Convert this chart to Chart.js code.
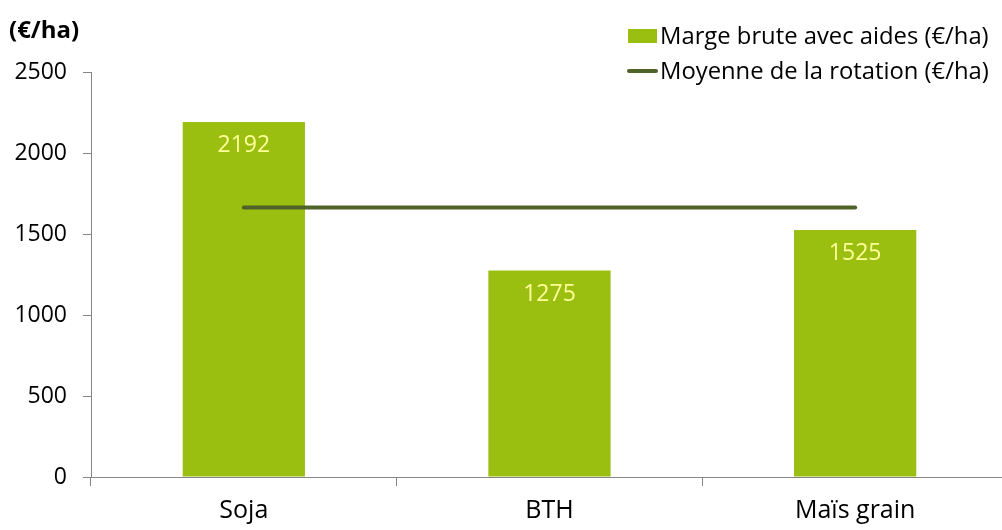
<!DOCTYPE html>
<html>
<head>
<meta charset="utf-8">
<script src="https://cdn.jsdelivr.net/npm/chart.js@4/dist/chart.umd.min.js"></script>
<style>
  html, body { margin: 0; padding: 0; background: #fff; overflow: hidden; }
  #wrap { width: 1008px; height: 530px; position: relative; }
</style>
</head>
<body>
<div id="wrap"><canvas id="c"></canvas></div>
<script>
// Gross margin per crop and the rotation average
const categories = ['Soja', 'BTH', 'Maïs grain'];
const margeBrute = [2192, 1275, 1525];
const moyenneRotation = [1664, 1664, 1664];
const seriesNames = ['Marge brute avec aides (€/ha)', 'Moyenne de la rotation (€/ha)'];
const yTicks = [0, 500, 1000, 1500, 2000, 2500];
const unitLabel = '(€/ha)';

const FONT = '"Open Sans", "Liberation Sans", sans-serif';
const BAR_COLOR = '#9bbf11';
const LINE_COLOR = '#4f6228';
const LABEL_COLOR = '#ffff99';

// Value labels inside the top of each bar
const barLabels = {
  id: 'barLabels',
  afterDatasetsDraw(chart) {
    const ctx = chart.ctx;
    const idx = chart.data.datasets.findIndex(d => d.type === 'bar');
    const meta = chart.getDatasetMeta(idx);
    ctx.save();
    ctx.font = '23px ' + FONT;
    ctx.fillStyle = LABEL_COLOR;
    ctx.textAlign = 'center';
    ctx.textBaseline = 'middle';
    meta.data.forEach((bar, i) => {
      ctx.fillText(String(chart.data.datasets[idx].data[i]), bar.x, bar.y + 24);
    });
    ctx.restore();
  }
};

// Unit caption and the two-row legend in the top corners
const decorations = {
  id: 'decorations',
  afterDraw(chart) {
    const ctx = chart.ctx;
    const ds = chart.data.datasets;
    const barDs = ds.find(d => d.type === 'bar');
    const lineDs = ds.find(d => d.type === 'line');
    ctx.save();
    ctx.font = 'bold 24px ' + FONT;
    ctx.fillStyle = '#000';
    ctx.textAlign = 'left';
    ctx.textBaseline = 'middle';
    ctx.fillText(unitLabel, 9, 31);

    ctx.font = '23.8px ' + FONT;
    // bar entry
    ctx.fillStyle = barDs.backgroundColor;
    ctx.fillRect(628, 29, 29, 14);
    ctx.fillStyle = '#000';
    ctx.fillText(barDs.label, 660, 37);
    // line entry
    ctx.strokeStyle = lineDs.borderColor;
    ctx.lineWidth = 4;
    ctx.lineCap = 'round';
    ctx.beginPath();
    ctx.moveTo(629, 71);
    ctx.lineTo(656, 71);
    ctx.stroke();
    ctx.fillText(lineDs.label, 660, 72);
    ctx.restore();
  }
};

new Chart(document.getElementById('c'), {
  data: {
    labels: categories,
    datasets: [
      {
        type: 'bar',
        label: seriesNames[0],
        data: margeBrute,
        backgroundColor: BAR_COLOR,
        categoryPercentage: 1,
        barPercentage: 0.4,
        order: 1
      },
      {
        type: 'line',
        label: seriesNames[1],
        data: moyenneRotation,
        borderColor: LINE_COLOR,
        borderWidth: 4,
        borderCapStyle: 'round',
        pointRadius: 0,
        fill: false,
        order: 0
      }
    ]
  },
  options: {
    responsive: true,
    maintainAspectRatio: false,
    animation: false,
    layout: { padding: { left: 0, right: 0, top: 72, bottom: 0 } },
    plugins: {
      legend: { display: false },
      tooltip: { enabled: false }
    },
    scales: {
      x: {
        offset: true,
        grid: {
          offset: true,
          drawOnChartArea: false,
          drawTicks: true,
          tickLength: 9,
          color: '#868686'
        },
        border: { color: '#868686', width: 1 },
        ticks: {
          color: '#000',
          font: { family: FONT, size: 25 },
          padding: 10
        },
        afterFit(s) { s.height = 53; }
      },
      y: {
        min: 0,
        max: 2500,
        afterBuildTicks(s) { s.ticks = yTicks.map(v => ({ value: v })); },
        grid: {
          drawOnChartArea: false,
          drawTicks: true,
          tickLength: 8,
          color: '#868686'
        },
        border: { color: '#868686', width: 1 },
        ticks: {
          color: '#000',
          font: { family: FONT, size: 23 },
          padding: 16,
          callback: v => String(v)
        },
        afterFit(s) { s.width = 91; }
      }
    }
  },
  plugins: [barLabels, decorations]
});
</script>
</body>
</html>
